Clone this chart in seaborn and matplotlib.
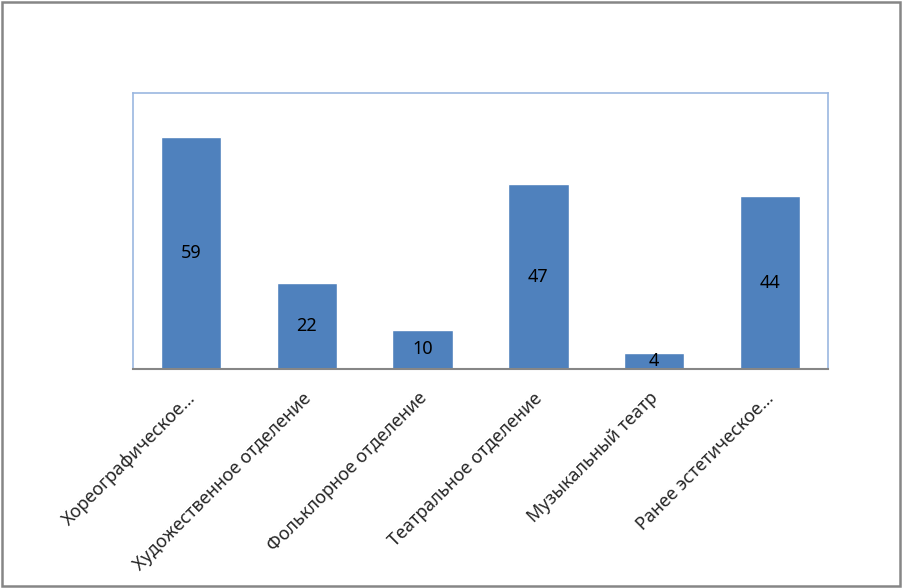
import numpy as np
import pandas as pd
import seaborn as sns
import matplotlib
import matplotlib.pyplot as plt
from matplotlib.patches import Rectangle
from matplotlib.transforms import ScaledTranslation

# data
departments = ["Хореографическое…", "Художественное отделение", "Фольклорное отделение",
               "Театральное отделение", "Музыкальный театр", "Ранее эстетическое…"]
students = [59, 22, 10, 47, 4, 44]

df = pd.DataFrame({"dept": departments, "n": students})

sns.set_style("white")
matplotlib.rcParams['font.family'] = ['Noto Sans', 'DejaVu Sans']

fig = plt.figure(figsize=(9.03, 5.88), dpi=100)
ax = fig.add_axes([0.1473, 0.3724, 0.7696, 0.4694])

sns.barplot(data=df, x="dept", y="n", color="#4F81BD", saturation=1,
            width=0.52, ax=ax)

# value labels in the middle of each bar
for cont in ax.containers:
    ax.bar_label(cont, label_type="center", fontsize=13, color="black")

ax.set_xlim(-0.5, len(departments) - 0.5)
ax.set_ylim(0, 70.2)
ax.set_xlabel("")
ax.set_ylabel("")
ax.set_yticks([])
ax.tick_params(axis="x", length=0, pad=19)
ax.set_xticks(range(len(departments)))
ax.set_xticklabels(departments, rotation=45, ha="right", va="center",
                   rotation_mode="anchor", fontsize=13)
for lab in ax.get_xticklabels():
    lab.set_transform(lab.get_transform() + ScaledTranslation(1/72, 0, fig.dpi_scale_trans))

for side in ["top", "right", "left"]:
    ax.spines[side].set_color("#9BB7E0")
    ax.spines[side].set_linewidth(1.2)
ax.spines["bottom"].set_color("#868686")
ax.spines["bottom"].set_linewidth(1.5)

# outer chart border
fig.patches.append(Rectangle((0.002, 0.003), 0.995, 0.994, transform=fig.transFigure,
                             fill=False, edgecolor="#868686", linewidth=1.8))

plt.savefig("out.png", dpi=100)
